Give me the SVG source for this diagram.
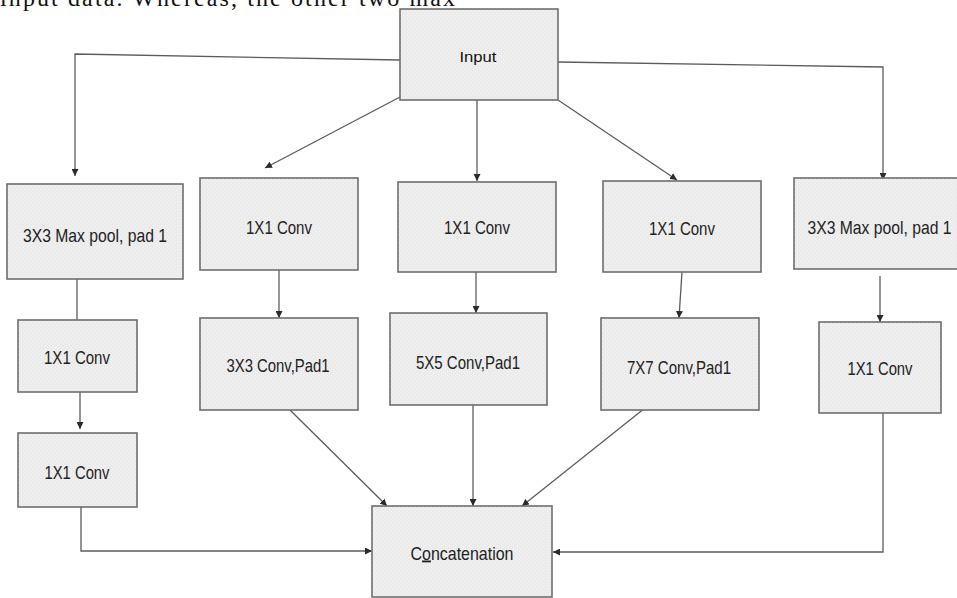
<svg xmlns="http://www.w3.org/2000/svg" width="957" height="598" viewBox="0 0 957 598">
<defs>
<pattern id="stip" width="4" height="4" patternUnits="userSpaceOnUse">
<rect width="4" height="4" fill="#ebebeb"/>
<rect x="1" y="1" width="1" height="1" fill="#fafafa"/>
<rect x="3" y="3" width="1" height="1" fill="#f7f7f7"/>
</pattern>
<marker id="ah" viewBox="0 0 10 10" refX="10" refY="5" markerWidth="7" markerHeight="7" markerUnits="userSpaceOnUse" orient="auto">
<path d="M0,0 L10,5 L0,10 z" fill="#2a2a2a"/>
</marker>
</defs>
<style>
.box{fill:url(#stip);stroke:#6e6e6e;stroke-width:1.6}
.lbl{font-family:"Liberation Sans",Arial,sans-serif;font-size:18.5px;fill:#222;text-anchor:middle}
.in{font-family:"Liberation Sans",Arial,sans-serif;font-size:15px;fill:#111;text-anchor:middle}
.c{fill:none;stroke:#5c5c5c;stroke-width:1.3}
.a{marker-end:url(#ah)}
</style>
<rect width="957" height="598" fill="#fff"/>
<text x="0" y="6" font-family="'Liberation Serif','Times New Roman',serif" font-size="24" fill="#111" textLength="455" lengthAdjust="spacing">input data. Whereas, the other two max</text>

<g id="connectors">
<path class="c a" d="M400,60 L75,54 L75,176"/>
<path class="c a" d="M558,62 L883,67 L883,180"/>
<path class="c a" d="M400,97 L265,168"/>
<path class="c a" d="M477,100 L477,181"/>
<path class="c a" d="M558,100 L677,180"/>
<path class="c" d="M77,279 L77,320"/>
<path class="c a" d="M279,270 L279,318"/>
<path class="c a" d="M476,272 L476,313"/>
<path class="c a" d="M682,272 L679,318"/>
<path class="c a" d="M880,276 L880,322"/>
<path class="c a" d="M80,392 L80,429"/>
<path class="c a" d="M81,507 L81,551 L372,551"/>
<path class="c a" d="M290,410 L387,506"/>
<path class="c a" d="M473,405 L473,506"/>
<path class="c a" d="M645,408 L522,506"/>
<path class="c a" d="M883,413 L883,552 L553,552"/>
</g>

<g id="input"><rect class="box" x="400" y="9" width="158" height="91"/><text class="in" x="478" y="62" textLength="37" lengthAdjust="spacingAndGlyphs">Input</text></g>

<g id="maxpool-left"><rect class="box" x="7" y="184" width="176" height="95"/><text class="lbl" x="95" y="241.5" textLength="144" lengthAdjust="spacingAndGlyphs">3X3 Max pool, pad 1</text></g>
<g id="conv1-b"><rect class="box" x="200" y="178" width="158" height="92"/><text class="lbl" x="279" y="233.5" textLength="66" lengthAdjust="spacingAndGlyphs">1X1 Conv</text></g>
<g id="conv1-c"><rect class="box" x="398" y="182" width="158" height="90"/><text class="lbl" x="477" y="233.5" textLength="66" lengthAdjust="spacingAndGlyphs">1X1 Conv</text></g>
<g id="conv1-d"><rect class="box" x="603" y="181" width="158" height="91"/><text class="lbl" x="682" y="234.5" textLength="66" lengthAdjust="spacingAndGlyphs">1X1 Conv</text></g>
<g id="maxpool-right"><rect class="box" x="794" y="178" width="168" height="91"/><text class="lbl" x="879.5" y="233.5" textLength="144" lengthAdjust="spacingAndGlyphs">3X3 Max pool, pad 1</text></g>

<g id="conv-a2"><rect class="box" x="18" y="320" width="119" height="72"/><text class="lbl" x="77" y="363.5" textLength="66" lengthAdjust="spacingAndGlyphs">1X1 Conv</text></g>
<g id="conv3x3"><rect class="box" x="200" y="318" width="158" height="92"/><text class="lbl" x="278" y="371.5" textLength="103" lengthAdjust="spacingAndGlyphs">3X3 Conv,Pad1</text></g>
<g id="conv5x5"><rect class="box" x="390" y="313" width="157" height="92"/><text class="lbl" x="468" y="368.5" textLength="104" lengthAdjust="spacingAndGlyphs">5X5 Conv,Pad1</text></g>
<g id="conv7x7"><rect class="box" x="601" y="318" width="158" height="92"/><text class="lbl" x="679" y="373.5" textLength="104" lengthAdjust="spacingAndGlyphs">7X7 Conv,Pad1</text></g>
<g id="conv-e2"><rect class="box" x="819" y="322" width="122" height="91"/><text class="lbl" x="880" y="374.5" textLength="65" lengthAdjust="spacingAndGlyphs">1X1 Conv</text></g>

<g id="conv-a3"><rect class="box" x="18" y="433" width="119" height="74"/><text class="lbl" x="77" y="478.5" textLength="65" lengthAdjust="spacingAndGlyphs">1X1 Conv</text></g>

<g id="concatenation"><rect class="box" x="372" y="506" width="180" height="91"/><text class="lbl" x="462" y="559.5" textLength="103" lengthAdjust="spacingAndGlyphs">C<tspan text-decoration="underline">o</tspan>ncatenation</text></g>
</svg>
